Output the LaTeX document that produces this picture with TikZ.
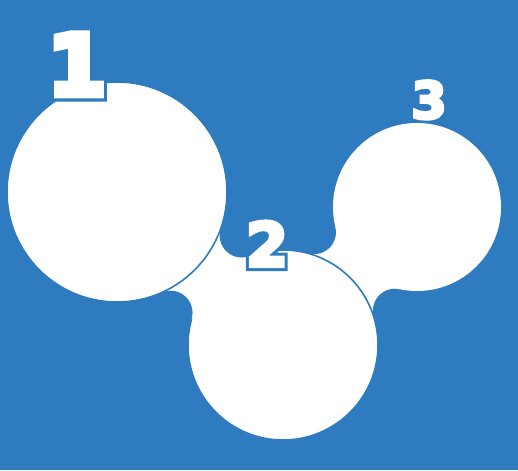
\documentclass[tikz,border=0pt]{standalone}
\usepackage{fontspec}
\usetikzlibrary{intersections}
\newfontfamily\digitfont{DejaVu Sans}
\definecolor{bgblue}{RGB}{46,123,191}

\begin{document}
\begin{tikzpicture}[
    x=1pt, y=1pt,
    blob/.style={fill=white},
    rim/.style={draw=bgblue, line width=1.6pt},
    hole/.style={fill=bgblue},
    tag/.style={text=white, inner sep=0pt, anchor=base},
    ring/.style={tag, text=bgblue}
]

\fill[bgblue] (0,0) rectangle (518,470);
\useasboundingbox (0,0) rectangle (518,470);

\coordinate (c1) at (117,278);
\coordinate (c2) at (283,125);
\coordinate (c3) at (417,263);

% centres of the round joins
\path[name path=r1] (c1) circle[radius=132];
\path[name path=r2] (c2) circle[radius=117];
\path[name path=r3] (c3) circle[radius=106];
\path[name intersections={of=r1 and r2, name=p}];
\path[name intersections={of=r2 and r3, name=q}];

% join 2-3
\fill[white] (c2) -- (q-1) -- (c3) -- (q-2) -- cycle;
\fill[hole] (q-1) circle[radius=22] (q-2) circle[radius=22];

\fill[blob] (c3) circle[radius=84];
\fill[blob] (c2) circle[radius=95];
\draw[rim] (c2) circle[radius=95];

% join 1-2
\fill[white] (c1) -- (p-1) -- (c2) -- (p-2) -- cycle;
\fill[hole] (p-1) circle[radius=22] (p-2) circle[radius=22];

\fill[blob] (c1) circle[radius=110];
\draw[rim] (c1) circle[radius=110];

% numbers: thick blue digit under a fattened white one
\node[ring, font=\digitfont\bfseries\fontsize{84}{84}\selectfont\addfontfeatures{FakeBold=15.5}] (one) at (77,375) {1};
\node[tag, font=\digitfont\bfseries\fontsize{84}{84}\selectfont\addfontfeatures{FakeBold=8.3}] (one-in) at (77,375) {1};
\node[ring, font=\digitfont\bfseries\fontsize{60}{60}\selectfont\addfontfeatures{FakeBold=16.7}] (two) at (267,204) {2};
\node[tag, font=\digitfont\bfseries\fontsize{60}{60}\selectfont\addfontfeatures{FakeBold=6.7}] (two-in) at (267,204) {2};
\node[ring, font=\digitfont\bfseries\fontsize{51}{51}\selectfont\addfontfeatures{FakeBold=13.7}] (three) at (429,351.5) {3};
\node[tag, font=\digitfont\bfseries\fontsize{51}{51}\selectfont\addfontfeatures{FakeBold=5.9}] (three-in) at (429,351.5) {3};

\end{tikzpicture}
\end{document}
